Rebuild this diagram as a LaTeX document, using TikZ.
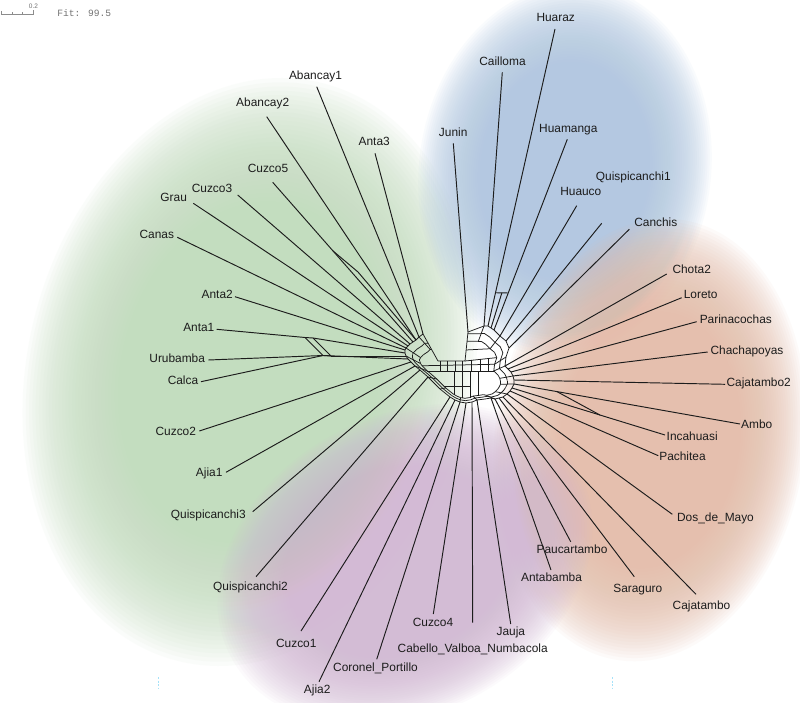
\documentclass[tikz,border=0pt]{standalone}
\usepackage{fontspec}
\setmainfont{Liberation Sans}
\newfontfamily\monof{Liberation Mono}
\usetikzlibrary{calc}
\definecolor{gB}{RGB}{194,221,189}
\definecolor{bB}{RGB}{176,200,225}
\definecolor{oB}{RGB}{229,189,168}
\definecolor{pB}{RGB}{211,186,213}
\definecolor{ink}{RGB}{28,28,28}
\newcommand\myblob[6]{%
  \foreach \i in {0,...,29}{%
    \pgfmathsetmacro\blobsc{1.02-0.0148*\i}%
    \fill[#6, fill opacity=0.066] (#1,#2) ellipse[x radius=\blobsc*#3, y radius=\blobsc*#4, rotate=#5];
  }%
}
\begin{document}
\begin{tikzpicture}[x=1pt,y=-1pt,
  lbl/.style={font=\fontsize{11.9}{14}\selectfont, text=ink, inner sep=0pt, anchor=mid},
  lnk/.style={draw=ink, line width=0.95pt, line join=round},
  webln/.style={draw=ink, line width=0.75pt, line join=round}]
\useasboundingbox (0,0) rectangle (800,703);
\fill[white] (0,0) rectangle (800,703);
% soft background regions
\myblob{250}{372}{218}{292}{-14}{gB}
\myblob{565}{170}{143}{183}{-8}{bB}
\myblob{650}{440}{152}{218}{-8}{oB}
\myblob{405}{565}{193}{146}{28}{pB}
% scale bar and fit
\draw[black!45, line width=0.6pt] (1,11) -- (1,14.3) -- (33.3,14.3) -- (33.3,10);
\draw[black!45, line width=0.6pt] (12,12.3) -- (12,14.3) (22.6,12.3) -- (22.6,14.3);
\node[font=\fontsize{6.5}{7}\selectfont, text=black!55, inner sep=0pt, anchor=mid] (scl) at (33.5,5.5) {0.2};
\node[font=\monof\fontsize{9.6}{11}\selectfont, text=black!55, inner sep=0pt, anchor=mid] (fit) at (84.2,14) {Fit: 99.5};
% small cyan marks
\draw[cyan!35, line width=0.8pt, dash pattern=on 2pt off 1.5pt] (158,677) -- (158,688);
\draw[cyan!35, line width=0.8pt, dash pattern=on 2pt off 1.5pt] (612,677) -- (612,688);

% ---------- labels ----------
\node[lbl] (LHuaraz) at (555.7,19.3) {Huaraz};
\node[lbl] (LCailloma) at (502.5,63.3) {Cailloma};
\node[lbl] (LJunin) at (453.2,134) {Junin};
\node[lbl] (LHuamanga) at (568.3,130) {Huamanga};
\node[lbl] (LQuispicanchiA) at (633.3,177.7) {Quispicanchi1};
\node[lbl] (LHuauco) at (580.8,192.7) {Huauco};
\node[lbl] (LCanchis) at (655.8,224.3) {Canchis};
\node[lbl] (LChotaB) at (691.7,270.7) {Chota2};
\node[lbl] (LLoreto) at (700.7,295.7) {Loreto};
\node[lbl] (LParinacochas) at (735.8,321) {Parinacochas};
\node[lbl] (LChachapoyas) at (747,352) {Chachapoyas};
\node[lbl] (LCajatamboB) at (758.7,384.3) {Cajatambo2};
\node[lbl] (LAmbo) at (756.7,425.7) {Ambo};
\node[lbl] (LIncahuasi) at (692.2,437.7) {Incahuasi};
\node[lbl] (LPachitea) at (682.5,458.3) {Pachitea};
\node[lbl] (LDos) at (715.5,519) {Dos\_de\_Mayo};
\node[lbl] (LPaucartambo) at (572,551) {Paucartambo};
\node[lbl] (LAntabamba) at (551.5,579.3) {Antabamba};
\node[lbl] (LSaraguro) at (637.8,590) {Saraguro};
\node[lbl] (LCajatambo) at (701.5,606.7) {Cajatambo};
\node[lbl] (LJauja) at (510.8,633.3) {Jauja};
\node[lbl] (LCabello) at (472.7,650) {Cabello\_Valboa\_Numbacola};
\node[lbl] (LCuzcoD) at (433,624) {Cuzco4};
\node[lbl] (LCoronel) at (375.5,669.3) {Coronel\_Portillo};
\node[lbl] (LAjiaB) at (317.2,691) {Ajia2};
\node[lbl] (LCuzcoA) at (296.3,645) {Cuzco1};
\node[lbl] (LQuispicanchiB) at (250.5,587.7) {Quispicanchi2};
\node[lbl] (LQuispicanchiC) at (208.3,516) {Quispicanchi3};
\node[lbl] (LAjiaA) at (209.2,474) {Ajia1};
\node[lbl] (LCuzcoB) at (175.8,433.3) {Cuzco2};
\node[lbl] (LCalca) at (183,381.7) {Calca};
\node[lbl] (LUrubamba) at (177.2,359.7) {Urubamba};
\node[lbl] (LAntaA) at (198.8,329) {Anta1};
\node[lbl] (LAntaB) at (217.2,295.7) {Anta2};
\node[lbl] (LCanas) at (156.8,235.7) {Canas};
\node[lbl] (LGrau) at (173.7,199.3) {Grau};
\node[lbl] (LCuzcoC) at (212,190) {Cuzco3};
\node[lbl] (LCuzcoE) at (268,170) {Cuzco5};
\node[lbl] (LAbancayB) at (262.7,104.3) {Abancay2};
\node[lbl] (LAbancayA) at (315.5,77.3) {Abancay1};
\node[lbl] (LAntaC) at (374.2,143.3) {Anta3};

% ---------- tips ----------
\coordinate (tAb1) at (316.7,86.7);
\coordinate (tAb2) at (266.7,116.7);
\coordinate (tAn3) at (375,153.3);
\coordinate (tC5) at (272.7,182.3);
\coordinate (tC3) at (237.7,195);
\coordinate (tGr) at (193.3,203.3);
\coordinate (tCa) at (177.3,237.3);
\coordinate (tA2) at (235,296.7);
\coordinate (tA1) at (216.7,329.3);
\coordinate (tUr) at (208.3,360);
\coordinate (tCl) at (201,381.7);
\coordinate (tC2) at (199.3,431);
\coordinate (tAj1) at (226,472.3);
\coordinate (tQ3) at (252.7,511.7);
\coordinate (tQ2) at (256,576.7);
\coordinate (tC1) at (301,631);
\coordinate (tAj2) at (319,681.7);
\coordinate (tCP) at (376.7,659.3);
\coordinate (tC4) at (433.3,614);
\coordinate (tCB) at (472.7,622.7);
\coordinate (tJa) at (510.7,624);
\coordinate (tAn) at (551,570);
\coordinate (tPa) at (570.7,541.7);
\coordinate (tSa) at (634.3,576.7);
\coordinate (tCj) at (696,594.3);
\coordinate (tDM) at (672.3,514.3);
\coordinate (tPc) at (658.3,455.7);
\coordinate (tIn) at (665,435);
\coordinate (tAm) at (740,424);
\coordinate (tCj2) at (725,384.3);
\coordinate (tCh) at (707.7,352);
\coordinate (tPn) at (696.7,321.7);
\coordinate (tLo) at (681.7,297.7);
\coordinate (tCh2) at (666.7,274);
\coordinate (tCn) at (629.3,229.3);
\coordinate (tQ1) at (601.7,223.3);
\coordinate (tHc) at (576.7,205.7);
\coordinate (tHm) at (567.3,139.3);
\coordinate (tHz) at (555,29);
\coordinate (tCll) at (502.3,72.3);
\coordinate (tJu) at (453.3,143.3);

% ---------- web nodes ----------
\coordinate (cc) at (462,385);
\coordinate (gA3) at (423,334);
\coordinate (gAb1) at (419,337);
\coordinate (gAb2) at (416,340);
\coordinate (gC5) at (413,342);
\coordinate (gC3) at (410,344);
\coordinate (gGr) at (408,346);
\coordinate (gCa) at (406,348);
\coordinate (gA2) at (405,350);
\coordinate (gA1) at (405,353);
\coordinate (gUr) at (406,356);
\coordinate (gCl) at (408,359);
\coordinate (gC2) at (411,362);
\coordinate (gAj1) at (415,366);
\coordinate (gQ3) at (420,370);
\coordinate (gQ2) at (428,377);
\coordinate (m1) at (440,389);
\coordinate (pC1) at (450,397);
\coordinate (pAj2) at (455,400);
\coordinate (pCP) at (460,402);
\coordinate (pC4) at (466,403);
\coordinate (pCB) at (472,402);
\coordinate (pJa) at (477,400);
\coordinate (m2) at (485,399);
\coordinate (oAn) at (491,398);
\coordinate (oPa) at (495,399);
\coordinate (oSa) at (499,398);
\coordinate (oCj) at (503,397);
\coordinate (oDM) at (507,394);
\coordinate (oPc) at (510,391);
\coordinate (oIn) at (512,388);
\coordinate (oAm) at (514,384);
\coordinate (oCj2) at (514,380);
\coordinate (oCh) at (513,376);
\coordinate (oPn) at (511,372);
\coordinate (oLo) at (508,369);
\coordinate (oCh2) at (505,366);
\coordinate (m3) at (506,357);
\coordinate (bCn) at (509,348);
\coordinate (bQ1) at (506,341);
\coordinate (bHc) at (500,336);
\coordinate (bHm) at (494,330);
\coordinate (bHz) at (488,326);
\coordinate (bCl) at (484,326);
\coordinate (bJu) at (468,332);
\coordinate (hBR) at (465,361);
\coordinate (hBL) at (438,361);
% parallelogram Anta1 / Urubamba / Calca
\coordinate (a1) at (305,337.5);
\coordinate (a2) at (313,338);
\coordinate (u1) at (323,355.5);
\coordinate (u2) at (331,356);
% split on Cuzco5
\coordinate (k1) at ($(tC5)!0.43!(gC5)$);
\coordinate (k2) at (358,272);
% split Huaraz / Huamanga
\coordinate (hz1) at ($(tHz)!0.888!(bHz)$);
\coordinate (hm1) at ($(tHm)!0.806!(bHm)$);
% split Incahuasi / Ambo
\coordinate (in1) at ($(tIn)!0.425!(oIn)$);
\coordinate (am1) at ($(tAm)!0.81!(oAm)$);

% ---------- leaf connectors ----------
\draw[lnk] (tAn3) -- (gA3);
\draw[lnk] (tAb1) -- (gAb1);
\draw[lnk] (tAb2) -- (gAb2);
\draw[lnk] (tC5) -- (k1) -- (gC5);
\draw[lnk] (k1) -- (k2) -- (gAb2);
\draw[lnk] (tC3) -- (gC3);
\draw[lnk] (tGr) -- (gGr);
\draw[lnk] (tCa) -- (gCa);
\draw[lnk] (tA2) -- (gA2);
\draw[lnk] (tA1) -- (a1) -- (a2) -- (gA1);
\draw[lnk] (a1) -- (u1) -- (u2) -- (a2);
\draw[lnk] (tUr) -- (u1);
\draw[lnk] (tCl) -- (u1);
\draw[lnk] (u2) -- (gUr);
\draw[lnk] (u1) -- (gCl);
\draw[lnk] (tC2) -- (gC2);
\draw[lnk] (tAj1) -- (gAj1);
\draw[lnk] (tQ3) -- (gQ3);
\draw[lnk] (tQ2) -- (gQ2);
\draw[lnk] (tC1) -- (pC1);
\draw[lnk] (tAj2) -- (pAj2);
\draw[lnk] (tCP) -- (pCP);
\draw[lnk] (tC4) -- (pC4);
\draw[lnk] (tCB) -- (pCB);
\draw[lnk] (tJa) -- (pJa);
\draw[lnk] (tAn) -- (oAn);
\draw[lnk] (tPa) -- (oPa);
\draw[lnk] (tSa) -- (oSa);
\draw[lnk] (tCj) -- (oCj);
\draw[lnk] (tDM) -- (oDM);
\draw[lnk] (tPc) -- (oPc);
\draw[lnk] (tIn) -- (oIn);
\draw[lnk] (tAm) -- (oAm);
\draw[lnk] (in1) -- (am1);
\draw[lnk] (tCj2) -- (oCj2);
\draw[lnk] (tCh) -- (oCh);
\draw[lnk] (tPn) -- (oPn);
\draw[lnk] (tLo) -- (oLo);
\draw[lnk] (tCh2) -- (oCh2);
\draw[lnk] (tCn) -- (bCn);
\draw[lnk] (tQ1) -- (bQ1);
\draw[lnk] (tHc) -- (bHc);
\draw[lnk] (tHm) -- (bHm);
\draw[lnk] (tHz) -- (bHz);
\draw[lnk] (hz1) -- (hm1);
\draw[lnk] ($(hz1)!0.5!(hm1)$) -- ($(bHz)!0.5!(bHm)$);
\draw[lnk] (tCll) -- (bCl);
\draw[lnk] (tJu) -- (bJu);

% ---------- central web ----------
\draw[webln] (gA3) -- (gAb1) -- (gAb2) -- (gC5) -- (gC3) -- (gGr) -- (gCa) -- (gA2) -- (gA1) -- (gUr) -- (gCl) -- (gC2) -- (gAj1) -- (gQ3) -- (gQ2) -- (m1) -- (pC1) -- (pAj2) -- (pCP) -- (pC4) -- (pCB) -- (pJa) -- (m2) -- (oAn) -- (oPa) -- (oSa) -- (oCj) -- (oDM) -- (oPc) -- (oIn) -- (oAm) -- (oCj2) -- (oCh) -- (oPn) -- (oLo) -- (oCh2) -- (m3) -- (bCn) -- (bQ1) -- (bHc) -- (bHm) -- (bHz) -- (bCl) -- (bJu) -- (hBR) -- (hBL) -- cycle;
\def\ringrest{gAb2,gC5,gC3,gGr,gCa,gA2,gA1,gUr,gCl,gC2,gAj1,gQ3,gQ2,m1,pC1,pAj2,pCP,pC4,pCB,pJa,m2,oAn,oPa,oSa,oCj,oDM,oPc,oIn,oAm,oCj2,oCh,oPn,oLo,oCh2,m3,bCn,bQ1,bHc,bHm,bHz,bCl}
\foreach \t in {0.13,0.26}{
  \foreach \a [remember=\a as \b (initially gAb1)] in \ringrest {
    \draw[webln] ($(\b)!\t!(cc)$) -- ($(\a)!\t!(cc)$);
  }
}
\foreach \a in {gAb1,gCa,gUr,gAj1,gQ2,m1,pCP,pJa,oPa,oDM,oAm,oCh,oCh2,m3,bHc,bCl}{
  \draw[webln] (\a) -- ($(\a)!0.26!(cc)$);
}
\draw[webln] ($(gAb1)!0.13!(cc)$) -- ($(gA3)!0.34!(hBL)$);
\draw[webln] ($(gAb1)!0.26!(cc)$) -- ($(gA3)!0.57!(hBL)$);
\draw[webln] ($(bCl)!0.13!(cc)$) -- ($(bJu)!0.06!(hBR)$);
\draw[webln] ($(bCl)!0.26!(cc)$) -- ($(bJu)!0.32!(hBR)$);
\draw[webln] ($(bJu)!0.62!(hBR)$) -- ($(bHc)!0.26!(cc)$);
\draw[webln] (hBR) -- ($(bCn)!0.26!(cc)$);
\draw[webln] ($(gCl)!0.26!(cc)$) -- ($(m3)!0.26!(cc)$);
\draw[webln] ($(gAj1)!0.26!(cc)$) -- ($(oCh2)!0.26!(cc)$);
\foreach \x/\y in {440/361,447/361,455/361,462/361,471/360.4,480/359.4,488/358.5}{
  \draw[webln] (\x,\y) -- (\x,371);
}
\foreach \x/\y in {454/394.5,462/397.8,470/398.3,478/395.5}{
  \draw[webln] (\x,371) -- (\x,\y);
}
\draw[webln] (443.5,386) -- (470,386);
\end{tikzpicture}
\end{document}
